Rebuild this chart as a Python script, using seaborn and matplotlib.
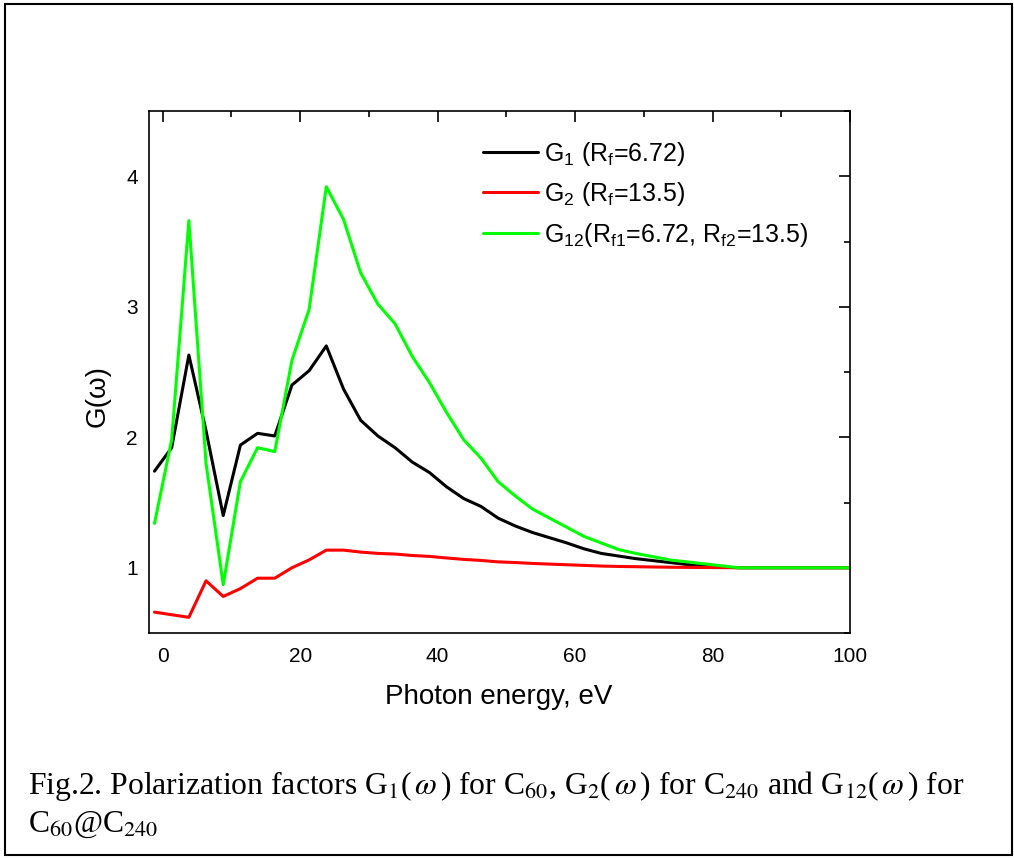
import matplotlib
matplotlib.use("Agg")
import matplotlib.pyplot as plt
import seaborn as sns
import pandas as pd
from matplotlib.patches import Rectangle
from matplotlib.ticker import MultipleLocator

# ---------------- data ----------------
energy = [-1.2, 1.3, 3.8, 6.3, 8.8, 11.3, 13.8, 16.3, 18.8, 21.3,
          23.8, 26.3, 28.8, 31.3, 33.8, 36.3, 38.8, 41.3, 43.8, 46.3,
          48.8, 51.3, 53.8, 56.3, 58.8, 61.3, 63.8, 66.3, 68.8, 71.3,
          73.8, 76.3, 78.8, 81.3, 83.8, 86.3, 88.8, 91.3, 93.8, 96.3,
          98.8, 101.3]

g1 = [1.74, 1.92, 2.63, 2.05, 1.40, 1.94, 2.03, 2.01, 2.40, 2.51,
      2.70, 2.37, 2.13, 2.01, 1.92, 1.81, 1.73, 1.62, 1.53, 1.47,
      1.38, 1.32, 1.27, 1.23, 1.19, 1.145, 1.11, 1.09, 1.07, 1.055,
      1.04, 1.025, 1.015, 1.005, 1.0, 1.0, 1.0, 1.0, 1.0, 1.0,
      1.0, 1.0]

g2 = [0.66, 0.64, 0.62, 0.90, 0.78, 0.84, 0.92, 0.92, 1.00, 1.06,
      1.135, 1.135, 1.12, 1.11, 1.105, 1.094, 1.087, 1.075, 1.064, 1.056,
      1.045, 1.04, 1.033, 1.028, 1.023, 1.018, 1.013, 1.01, 1.008, 1.006,
      1.004, 1.003, 1.002, 1.001, 1.0, 1.0, 1.0, 1.0, 1.0, 1.0,
      1.0, 1.0]

g12 = [1.34, 1.98, 3.66, 1.80, 0.87, 1.66, 1.92, 1.89, 2.59, 2.98,
       3.92, 3.67, 3.26, 3.02, 2.87, 2.62, 2.42, 2.19, 1.98, 1.84,
       1.66, 1.55, 1.45, 1.38, 1.31, 1.24, 1.19, 1.14, 1.11, 1.085,
       1.06, 1.045, 1.03, 1.015, 1.0, 1.0, 1.0, 1.0, 1.0, 1.0,
       1.0, 1.0]

series_labels = [r"G$_1$ (R$_\mathrm{f}$=6.72)",
                 r"G$_2$ (R$_\mathrm{f}$=13.5)",
                 r"G$_{12}$(R$_\mathrm{f1}$=6.72, R$_\mathrm{f2}$=13.5)"]
series_colors = ["#000000", "#ff0000", "#00ff00"]

xticks = [0, 20, 40, 60, 80, 100]
yticks = [1, 2, 3, 4]

caption1 = (r"Fig.2. Polarization factors G$_1$($\,\omega\,$) for C$_{60}$, "
            r"G$_2$($\,\omega\,$) for C$_{240}$ and G$_{12}$($\,\omega\,$) for")
caption2 = r"C$_{60}$@C$_{240}$"

# ---------------- style ----------------
sns.set_style("white")
plt.rcParams["font.family"] = ["Liberation Sans", "DejaVu Sans"]
plt.rcParams["mathtext.fontset"] = "custom"
plt.rcParams["mathtext.rm"] = "Liberation Sans"
plt.rcParams["mathtext.it"] = "Liberation Sans:italic"
plt.rcParams["mathtext.bf"] = "Liberation Sans:bold"
for k in ["text.color", "axes.labelcolor", "xtick.color", "ytick.color",
          "xtick.labelcolor", "ytick.labelcolor"]:
    plt.rcParams[k] = "black"

W, H = 1014, 858
fig = plt.figure(figsize=(W / 100, H / 100), dpi=100)
ax = fig.add_axes([149 / W, 1 - 633 / H, 701 / W, 522 / H])

df = pd.DataFrame({"energy": energy * 3,
                   "G": g1 + g2 + g12,
                   "series": [series_labels[0]] * len(energy)
                   + [series_labels[1]] * len(energy)
                   + [series_labels[2]] * len(energy)})

sns.lineplot(data=df, x="energy", y="G", hue="series",
             hue_order=series_labels, palette=series_colors,
             sort=False, estimator=None, linewidth=2.2, ax=ax)

ax.set_xlim(-2, 100)
ax.set_ylim(0.5, 4.5)
ax.set_xticks(xticks)
ax.set_yticks(yticks)
ax.xaxis.set_minor_locator(MultipleLocator(10))
ax.yaxis.set_minor_locator(MultipleLocator(0.5))
ax.tick_params(which="both", direction="in", top=True, right=True,
               width=1.2, color="black")
ax.tick_params(which="major", length=8)
ax.tick_params(which="minor", length=4.5)
ax.tick_params(axis="x", which="major", labelsize=15, pad=10)
ax.tick_params(axis="y", which="major", labelsize=15, pad=8)
for s in ax.spines.values():
    s.set_linewidth(1.2)
    s.set_color("black")

ax.set_xlabel("Photon energy, eV", fontsize=20)
ax.xaxis.set_label_coords(0.499, -0.098)
ax.set_ylabel("G(ω)", fontsize=20)
ax.yaxis.label.set_va("center")
ax.yaxis.set_label_coords(-0.074, 0.454)

leg = ax.legend(frameon=False, loc="upper left", bbox_to_anchor=(0.476, 0.945),
                fontsize=18, handlelength=2.2, handletextpad=0.25,
                labelspacing=0.5, borderpad=0, borderaxespad=0)
for line in leg.get_lines():
    line.set_linewidth(2.2)

fig.text(28 / W, 1 - 794 / H, caption1, fontsize=22.8, family="Liberation Serif",
         math_fontfamily="stix", va="baseline", ha="left")
fig.text(28 / W, 1 - 832 / H, caption2, fontsize=22.8, family="Liberation Serif",
         math_fontfamily="stix", va="baseline", ha="left")

fig.patches.append(Rectangle((4.5 / W, 1 - 855 / H), 1007 / W, 851 / H,
                             transform=fig.transFigure, fill=False,
                             edgecolor="black", linewidth=1.5))

fig.savefig("out.png", dpi=100)
